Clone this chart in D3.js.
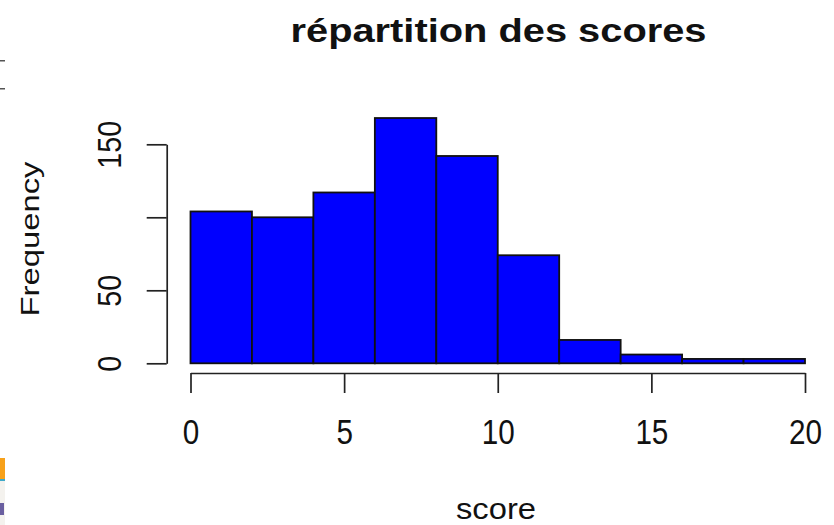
<!DOCTYPE html>
<html>
<head>
<meta charset="utf-8">
<script src="https://cdn.jsdelivr.net/npm/d3@7"></script>
<style>
  html, body { margin: 0; padding: 0; background: #fff; }
  svg { display: block; font-family: "Liberation Sans", Arial, sans-serif; }
</style>
</head>
<body>
<div id="chart"></div>
<script>
// histogram of scores, bins of width 2
const binStarts = [0, 2, 4, 6, 8, 10, 12, 14, 16, 18];
const binWidth = 2;
const counts = [104, 100, 117, 168, 142, 74, 16, 6, 3, 3];
const xTicks = [0, 5, 10, 15, 20];
const yTicks = [0, 50, 100, 150];
const yTickLabels = ["0", "50", "", "150"]; // R drops "100" (overlap)

const width = 834, height = 525;

const svg = d3.select("#chart")
    .append("svg")
    .attr("width", width)
    .attr("height", height);

const x = d3.scaleLinear().domain([0, 20]).range([190.5, 805]);
const y = d3.scaleLinear().domain([0, 150]).range([363.3, 144.3]);

// bars
svg.selectAll("rect.bar")
    .data(binStarts)
    .enter()
    .append("rect")
    .attr("class", "bar")
    .attr("x", d => x(d))
    .attr("width", d => x(d + binWidth) - x(d))
    .attr("y", (d, i) => y(counts[i]))
    .attr("height", (d, i) => y(0) - y(counts[i]))
    .attr("fill", "#0000ff")
    .attr("stroke", "#111")
    .attr("stroke-width", 1.8);

// x axis
const xAxis = svg.append("g")
    .attr("transform", "translate(0,373)")
    .call(d3.axisBottom(x).tickValues(xTicks).tickSize(20).tickPadding(28).tickSizeOuter(0));
xAxis.select(".domain").attr("stroke", "#222").attr("stroke-width", 1.7);
xAxis.selectAll(".tick line").attr("stroke", "#222").attr("stroke-width", 1.7);
xAxis.selectAll(".tick text")
    .attr("fill", "#111")
    .attr("font-size", 35)
    .attr("dy", 0)
    .attr("y", 71)
    .attr("textLength", d => String(d).length * 16.5)
    .attr("lengthAdjust", "spacingAndGlyphs");

// y axis
const yAxis = svg.append("g")
    .attr("transform", "translate(166.7,0)")
    .call(d3.axisLeft(y).tickValues(yTicks).tickSize(20).tickSizeOuter(0)
        .tickFormat((d, i) => yTickLabels[i]));
yAxis.select(".domain").attr("stroke", "#222").attr("stroke-width", 1.7);
yAxis.selectAll(".tick line").attr("stroke", "#222").attr("stroke-width", 1.7);
yAxis.selectAll(".tick text")
    .attr("fill", "#111")
    .attr("font-size", 34)
    .attr("x", null)
    .attr("dy", null)
    .attr("text-anchor", "middle")
    .attr("transform", "translate(-46,0) rotate(-90)")
    .attr("textLength", (d, i) => yTickLabels[i].length * 16)
    .attr("lengthAdjust", "spacingAndGlyphs");

// title and axis labels
svg.append("text")
    .attr("x", 498.5)
    .attr("y", 42)
    .attr("text-anchor", "middle")
    .attr("font-weight", "bold")
    .attr("font-size", 33)
    .attr("fill", "#111")
    .attr("textLength", 416)
    .attr("lengthAdjust", "spacingAndGlyphs")
    .text("répartition des scores");

svg.append("text")
    .attr("x", 496)
    .attr("y", 519)
    .attr("text-anchor", "middle")
    .attr("font-size", 29)
    .attr("fill", "#111")
    .attr("textLength", 80)
    .attr("lengthAdjust", "spacingAndGlyphs")
    .text("score");

svg.append("text")
    .attr("transform", "translate(39,239) rotate(-90)")
    .attr("text-anchor", "middle")
    .attr("font-size", 26)
    .attr("fill", "#111")
    .attr("textLength", 155)
    .attr("lengthAdjust", "spacingAndGlyphs")
    .text("Frequency");

// bits of the surrounding screenshot at the left edge
const edge = svg.append("g");
edge.append("rect").attr("x", 0).attr("y", 60).attr("width", 5).attr("height", 1.5).attr("fill", "#555");
edge.append("rect").attr("x", 0).attr("y", 88).attr("width", 5).attr("height", 1.5).attr("fill", "#555");
edge.append("rect").attr("x", 0).attr("y", 458).attr("width", 5).attr("height", 21).attr("fill", "#f7a11a");
edge.append("rect").attr("x", 0).attr("y", 479).attr("width", 5).attr("height", 2).attr("fill", "#3fa9c9");
edge.append("rect").attr("x", 0).attr("y", 481).attr("width", 5).attr("height", 44).attr("fill", "#f4f2ee");
edge.append("rect").attr("x", 0).attr("y", 503).attr("width", 4).attr("height", 12).attr("fill", "#6a5fa0");
</script>
</body>
</html>
